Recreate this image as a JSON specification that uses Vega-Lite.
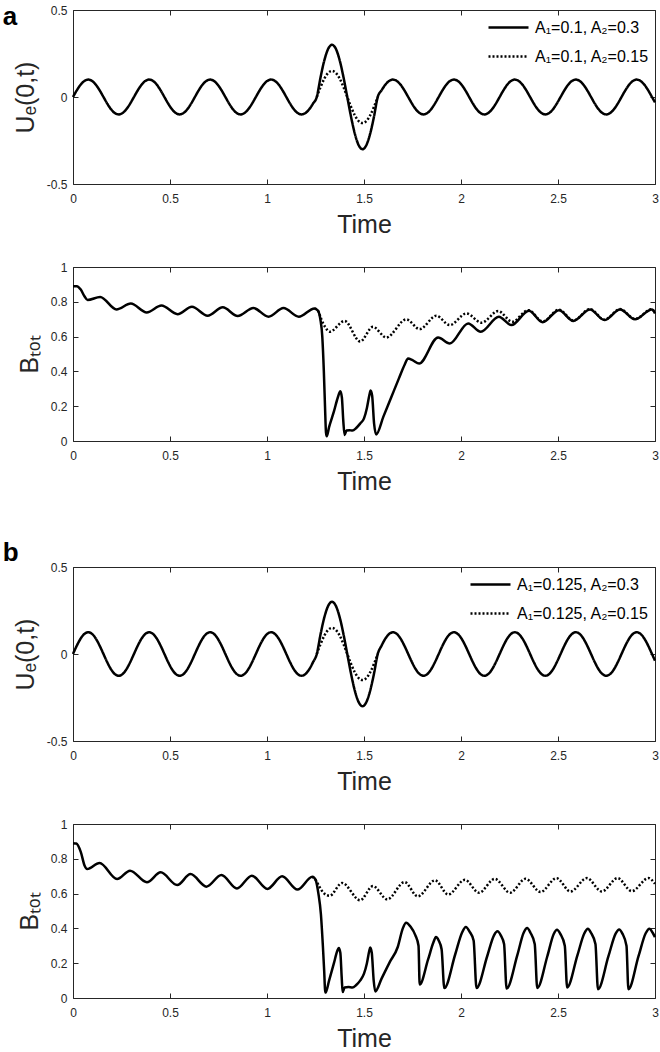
{
"$schema": "https://vega.github.io/schema/vega-lite/v6.json",
"background": "white",
"padding": {"left": 2, "top": 3, "right": 4, "bottom": 2},
"config": {
  "view": {"stroke": "#262626", "strokeWidth": 1},
  "font": "Liberation Sans",
  "axis": {"grid": false, "domain": false, "tickSize": -5, "tickColor": "#262626", "tickWidth": 1, "labelColor": "#262626", "labelFontSize": 12, "labelFont": "Liberation Sans", "labelFlush": false, "labelOverlap": false, "titleFontSize": 25, "titleFont": "Liberation Sans", "titleFontWeight": "normal", "titleColor": "#262626"},
  "axisX": {"labelPadding": 14, "titlePadding": 8},
  "axisY": {"labelPadding": 11, "titlePadding": 8}
},
"datasets": {
"u": [
{"t":0,"a":0,"b":0},{"t":0.0196,"a":0.0383,"b":0.0478},{"t":0.0393,"a":0.0707,"b":0.0884},{"t":0.0589,"a":0.0924,"b":0.1155},{"t":0.0785,"a":0.1,"b":0.125},{"t":0.0982,"a":0.0924,"b":0.1155},{"t":0.1178,"a":0.0707,"b":0.0884},{"t":0.1374,"a":0.0383,"b":0.0478},
{"t":0.1571,"a":0,"b":0},{"t":0.1767,"a":-0.0383,"b":-0.0478},{"t":0.1963,"a":-0.0707,"b":-0.0884},{"t":0.216,"a":-0.0924,"b":-0.1155},{"t":0.2356,"a":-0.1,"b":-0.125},{"t":0.2553,"a":-0.0924,"b":-0.1155},{"t":0.2749,"a":-0.0707,"b":-0.0884},{"t":0.2945,"a":-0.0383,"b":-0.0478},
{"t":0.3142,"a":0,"b":0},{"t":0.3338,"a":0.0383,"b":0.0478},{"t":0.3534,"a":0.0707,"b":0.0884},{"t":0.3731,"a":0.0924,"b":0.1155},{"t":0.3927,"a":0.1,"b":0.125},{"t":0.4123,"a":0.0924,"b":0.1155},{"t":0.432,"a":0.0707,"b":0.0884},{"t":0.4516,"a":0.0383,"b":0.0478},
{"t":0.4712,"a":0,"b":0},{"t":0.4909,"a":-0.0383,"b":-0.0478},{"t":0.5105,"a":-0.0707,"b":-0.0884},{"t":0.5301,"a":-0.0924,"b":-0.1155},{"t":0.5498,"a":-0.1,"b":-0.125},{"t":0.5694,"a":-0.0924,"b":-0.1155},{"t":0.589,"a":-0.0707,"b":-0.0884},{"t":0.6087,"a":-0.0383,"b":-0.0478},
{"t":0.6283,"a":0,"b":0},{"t":0.648,"a":0.0383,"b":0.0478},{"t":0.6676,"a":0.0707,"b":0.0884},{"t":0.6872,"a":0.0924,"b":0.1155},{"t":0.7069,"a":0.1,"b":0.125},{"t":0.7265,"a":0.0924,"b":0.1155},{"t":0.7461,"a":0.0707,"b":0.0884},{"t":0.7658,"a":0.0383,"b":0.0478},
{"t":0.7854,"a":0,"b":0},{"t":0.805,"a":-0.0383,"b":-0.0478},{"t":0.8247,"a":-0.0707,"b":-0.0884},{"t":0.8443,"a":-0.0924,"b":-0.1155},{"t":0.8639,"a":-0.1,"b":-0.125},{"t":0.8836,"a":-0.0924,"b":-0.1155},{"t":0.9032,"a":-0.0707,"b":-0.0884},{"t":0.9228,"a":-0.0383,"b":-0.0478},
{"t":0.9425,"a":0,"b":0},{"t":0.9621,"a":0.0383,"b":0.0478},{"t":0.9817,"a":0.0707,"b":0.0884},{"t":1.0014,"a":0.0924,"b":0.1155},{"t":1.021,"a":0.1,"b":0.125},{"t":1.0407,"a":0.0924,"b":0.1155},{"t":1.0603,"a":0.0707,"b":0.0884},{"t":1.0799,"a":0.0383,"b":0.0478},
{"t":1.0996,"a":0,"b":0},{"t":1.1192,"a":-0.0383,"b":-0.0478},{"t":1.1388,"a":-0.0707,"b":-0.0884},{"t":1.1585,"a":-0.0924,"b":-0.1155},{"t":1.1781,"a":-0.1,"b":-0.125},{"t":1.1977,"a":-0.0924,"b":-0.1155},{"t":1.2174,"a":-0.0707,"b":-0.0884},{"t":1.237,"a":-0.0383,"b":-0.0478},
{"t":1.2566,"a":0,"b":0},{"t":1.2763,"a":0.1148,"b":0.1148},{"t":1.2959,"a":0.2121,"b":0.2121},{"t":1.3155,"a":0.2772,"b":0.2772},{"t":1.3352,"a":0.3,"b":0.3},{"t":1.3548,"a":0.2772,"b":0.2772},{"t":1.3744,"a":0.2121,"b":0.2121},{"t":1.3941,"a":0.1148,"b":0.1148},
{"t":1.4137,"a":0,"b":0},{"t":1.4334,"a":-0.1148,"b":-0.1148},{"t":1.453,"a":-0.2121,"b":-0.2121},{"t":1.4726,"a":-0.2772,"b":-0.2772},{"t":1.4923,"a":-0.3,"b":-0.3},{"t":1.5119,"a":-0.2772,"b":-0.2772},{"t":1.5315,"a":-0.2121,"b":-0.2121},{"t":1.5512,"a":-0.1148,"b":-0.1148},
{"t":1.5708,"a":0,"b":0},{"t":1.5904,"a":0.0383,"b":0.0478},{"t":1.6101,"a":0.0707,"b":0.0884},{"t":1.6297,"a":0.0924,"b":0.1155},{"t":1.6493,"a":0.1,"b":0.125},{"t":1.669,"a":0.0924,"b":0.1155},{"t":1.6886,"a":0.0707,"b":0.0884},{"t":1.7082,"a":0.0383,"b":0.0478},
{"t":1.7279,"a":0,"b":0},{"t":1.7475,"a":-0.0383,"b":-0.0478},{"t":1.7671,"a":-0.0707,"b":-0.0884},{"t":1.7868,"a":-0.0924,"b":-0.1155},{"t":1.8064,"a":-0.1,"b":-0.125},{"t":1.8261,"a":-0.0924,"b":-0.1155},{"t":1.8457,"a":-0.0707,"b":-0.0884},{"t":1.8653,"a":-0.0383,"b":-0.0478},
{"t":1.885,"a":0,"b":0},{"t":1.9046,"a":0.0383,"b":0.0478},{"t":1.9242,"a":0.0707,"b":0.0884},{"t":1.9439,"a":0.0924,"b":0.1155},{"t":1.9635,"a":0.1,"b":0.125},{"t":1.9831,"a":0.0924,"b":0.1155},{"t":2.0028,"a":0.0707,"b":0.0884},{"t":2.0224,"a":0.0383,"b":0.0478},
{"t":2.042,"a":0,"b":0},{"t":2.0617,"a":-0.0383,"b":-0.0478},{"t":2.0813,"a":-0.0707,"b":-0.0884},{"t":2.1009,"a":-0.0924,"b":-0.1155},{"t":2.1206,"a":-0.1,"b":-0.125},{"t":2.1402,"a":-0.0924,"b":-0.1155},{"t":2.1598,"a":-0.0707,"b":-0.0884},{"t":2.1795,"a":-0.0383,"b":-0.0478},
{"t":2.1991,"a":0,"b":0},{"t":2.2188,"a":0.0383,"b":0.0478},{"t":2.2384,"a":0.0707,"b":0.0884},{"t":2.258,"a":0.0924,"b":0.1155},{"t":2.2777,"a":0.1,"b":0.125},{"t":2.2973,"a":0.0924,"b":0.1155},{"t":2.3169,"a":0.0707,"b":0.0884},{"t":2.3366,"a":0.0383,"b":0.0478},
{"t":2.3562,"a":0,"b":0},{"t":2.3758,"a":-0.0383,"b":-0.0478},{"t":2.3955,"a":-0.0707,"b":-0.0884},{"t":2.4151,"a":-0.0924,"b":-0.1155},{"t":2.4347,"a":-0.1,"b":-0.125},{"t":2.4544,"a":-0.0924,"b":-0.1155},{"t":2.474,"a":-0.0707,"b":-0.0884},{"t":2.4936,"a":-0.0383,"b":-0.0478},
{"t":2.5133,"a":0,"b":0},{"t":2.5329,"a":0.0383,"b":0.0478},{"t":2.5525,"a":0.0707,"b":0.0884},{"t":2.5722,"a":0.0924,"b":0.1155},{"t":2.5918,"a":0.1,"b":0.125},{"t":2.6115,"a":0.0924,"b":0.1155},{"t":2.6311,"a":0.0707,"b":0.0884},{"t":2.6507,"a":0.0383,"b":0.0478},
{"t":2.6704,"a":0,"b":0},{"t":2.69,"a":-0.0383,"b":-0.0478},{"t":2.7096,"a":-0.0707,"b":-0.0884},{"t":2.7293,"a":-0.0924,"b":-0.1155},{"t":2.7489,"a":-0.1,"b":-0.125},{"t":2.7685,"a":-0.0924,"b":-0.1155},{"t":2.7882,"a":-0.0707,"b":-0.0884},{"t":2.8078,"a":-0.0383,"b":-0.0478},
{"t":2.8274,"a":0,"b":0},{"t":2.8471,"a":0.0383,"b":0.0478},{"t":2.8667,"a":0.0707,"b":0.0884},{"t":2.8863,"a":0.0924,"b":0.1155},{"t":2.906,"a":0.1,"b":0.125},{"t":2.9256,"a":0.0924,"b":0.1155},{"t":2.9452,"a":0.0707,"b":0.0884},{"t":2.9649,"a":0.0383,"b":0.0478},
{"t":2.9845,"a":0,"b":0},{"t":3,"a":-0.0305,"b":-0.0381}
],
"pd": [
{"t":1.2566,"v":0},{"t":1.2763,"v":0.0574},{"t":1.2959,"v":0.1061},{"t":1.3155,"v":0.1386},{"t":1.3352,"v":0.15},{"t":1.3548,"v":0.1386},{"t":1.3744,"v":0.1061},{"t":1.3941,"v":0.0574},
{"t":1.4137,"v":0},{"t":1.4334,"v":-0.0574},{"t":1.453,"v":-0.1061},{"t":1.4726,"v":-0.1386},{"t":1.4923,"v":-0.15},{"t":1.5119,"v":-0.1386},{"t":1.5315,"v":-0.1061},{"t":1.5512,"v":-0.0574},{"t":1.5708,"v":0}
],
"ba": [
{"t":0,"y":0.89},{"t":0.02,"y":0.89},{"t":0.04,"y":0.87},{"t":0.06,"y":0.83},{"t":0.075,"y":0.81},{"t":0.14,"y":0.828},{"t":0.224,"y":0.756},{"t":0.298,"y":0.79},{"t":0.38,"y":0.739},{"t":0.456,"y":0.779},{"t":0.539,"y":0.729},{"t":0.613,"y":0.772},{"t":0.694,"y":0.72},{"t":0.772,"y":0.768},{"t":0.849,"y":0.718},{"t":0.93,"y":0.764},{"t":1.008,"y":0.714},{"t":1.085,"y":0.764},{"t":1.164,"y":0.714},{"t":1.245,"y":0.762},
{"t":1.262,"y":0.75},{"t":1.275,"y":0.7},{"t":1.285,"y":0.6},{"t":1.293,"y":0.4},{"t":1.299,"y":0.2},{"t":1.304,"y":0.05},{"t":1.308,"y":0.027},{"t":1.32,"y":0.08},{"t":1.345,"y":0.17},{"t":1.365,"y":0.25},{"t":1.378,"y":0.286},{"t":1.386,"y":0.25},{"t":1.393,"y":0.12},{"t":1.4,"y":0.035},{"t":1.41,"y":0.06},{"t":1.425,"y":0.062},{"t":1.44,"y":0.06},{"t":1.46,"y":0.075},{"t":1.48,"y":0.1},{"t":1.5,"y":0.13},{"t":1.515,"y":0.19},{"t":1.527,"y":0.26},{"t":1.534,"y":0.29},{"t":1.542,"y":0.26},{"t":1.552,"y":0.1},{"t":1.563,"y":0.038},
{"t":1.6,"y":0.14},{"t":1.64,"y":0.25},{"t":1.68,"y":0.36},{"t":1.71,"y":0.44},{"t":1.727,"y":0.474},{"t":1.75,"y":0.465},{"t":1.784,"y":0.445},{"t":1.882,"y":0.595},{"t":1.942,"y":0.56},{"t":2.037,"y":0.676},{"t":2.102,"y":0.628},{"t":2.195,"y":0.714},{"t":2.26,"y":0.666},{"t":2.35,"y":0.749},{"t":2.421,"y":0.683},{"t":2.505,"y":0.752},{"t":2.579,"y":0.69},{"t":2.665,"y":0.756},{"t":2.739,"y":0.695},{"t":2.82,"y":0.756},{"t":2.897,"y":0.699},{"t":2.984,"y":0.756},{"t":3,"y":0.733}
],
"bad": [
{"t":1.245,"y":0.762},{"t":1.262,"y":0.75},{"t":1.28,"y":0.7},{"t":1.3,"y":0.655},{"t":1.323,"y":0.628},{"t":1.4,"y":0.69},{"t":1.48,"y":0.572},{"t":1.546,"y":0.656},{"t":1.615,"y":0.595},{"t":1.718,"y":0.699},{"t":1.787,"y":0.643},{"t":1.873,"y":0.72},{"t":1.942,"y":0.666},{"t":2.028,"y":0.733},{"t":2.106,"y":0.68},{"t":2.192,"y":0.747},{"t":2.264,"y":0.685},{"t":2.347,"y":0.752},{"t":2.421,"y":0.687},{"t":2.505,"y":0.755},{"t":2.579,"y":0.692},{"t":2.665,"y":0.758},{"t":2.739,"y":0.697},{"t":2.82,"y":0.758},{"t":2.897,"y":0.701},{"t":2.984,"y":0.758},{"t":3,"y":0.735}
],
"bb": [
{"t":0,"y":0.89},{"t":0.017,"y":0.888},{"t":0.04,"y":0.84},{"t":0.06,"y":0.76},{"t":0.073,"y":0.741},{"t":0.137,"y":0.776},{"t":0.227,"y":0.684},{"t":0.294,"y":0.732},{"t":0.381,"y":0.665},{"t":0.452,"y":0.722},{"t":0.537,"y":0.649},{"t":0.606,"y":0.712},{"t":0.688,"y":0.64},{"t":0.765,"y":0.707},{"t":0.845,"y":0.63},{"t":0.922,"y":0.703},{"t":1.002,"y":0.627},{"t":1.078,"y":0.699},{"t":1.157,"y":0.623},{"t":1.234,"y":0.697},
{"t":1.25,"y":0.68},{"t":1.265,"y":0.6},{"t":1.278,"y":0.48},{"t":1.288,"y":0.3},{"t":1.295,"y":0.15},{"t":1.299,"y":0.05},{"t":1.302,"y":0.031},{"t":1.32,"y":0.1},{"t":1.345,"y":0.2},{"t":1.362,"y":0.27},{"t":1.37,"y":0.287},{"t":1.378,"y":0.26},{"t":1.385,"y":0.12},{"t":1.39,"y":0.034},{"t":1.4,"y":0.06},{"t":1.42,"y":0.063},{"t":1.44,"y":0.06},{"t":1.46,"y":0.075},{"t":1.48,"y":0.1},{"t":1.5,"y":0.14},{"t":1.515,"y":0.2},{"t":1.527,"y":0.27},{"t":1.532,"y":0.29},{"t":1.54,"y":0.26},{"t":1.55,"y":0.1},{"t":1.558,"y":0.038},
{"t":1.59,"y":0.11},{"t":1.632,"y":0.205},{"t":1.674,"y":0.293},{"t":1.7,"y":0.4},{"t":1.717,"y":0.433},{"t":1.74,"y":0.41},{"t":1.765,"y":0.36},{"t":1.781,"y":0.3},{"t":1.787,"y":0.077},
{"t":1.83,"y":0.22},{"t":1.858,"y":0.32},{"t":1.871,"y":0.35},{"t":1.885,"y":0.33},{"t":1.9,"y":0.28},{"t":1.914,"y":0.057},
{"t":1.97,"y":0.25},{"t":2.005,"y":0.375},{"t":2.025,"y":0.408},{"t":2.045,"y":0.38},{"t":2.065,"y":0.33},{"t":2.08,"y":0.057},
{"t":2.135,"y":0.24},{"t":2.17,"y":0.36},{"t":2.188,"y":0.383},{"t":2.205,"y":0.36},{"t":2.222,"y":0.31},{"t":2.235,"y":0.054},
{"t":2.29,"y":0.245},{"t":2.323,"y":0.375},{"t":2.341,"y":0.402},{"t":2.358,"y":0.375},{"t":2.38,"y":0.31},{"t":2.393,"y":0.057},
{"t":2.445,"y":0.24},{"t":2.478,"y":0.368},{"t":2.495,"y":0.392},{"t":2.512,"y":0.368},{"t":2.535,"y":0.3},{"t":2.547,"y":0.061},
{"t":2.6,"y":0.245},{"t":2.636,"y":0.372},{"t":2.654,"y":0.398},{"t":2.67,"y":0.375},{"t":2.693,"y":0.31},{"t":2.706,"y":0.05},
{"t":2.76,"y":0.24},{"t":2.797,"y":0.37},{"t":2.815,"y":0.394},{"t":2.832,"y":0.37},{"t":2.853,"y":0.3},{"t":2.863,"y":0.05},
{"t":2.915,"y":0.24},{"t":2.952,"y":0.372},{"t":2.971,"y":0.398},{"t":2.988,"y":0.375},{"t":3,"y":0.35}
],
"bbd": [
{"t":1.234,"y":0.697},{"t":1.25,"y":0.68},{"t":1.27,"y":0.64},{"t":1.295,"y":0.6},{"t":1.323,"y":0.588},{"t":1.387,"y":0.661},{"t":1.48,"y":0.562},{"t":1.546,"y":0.643},{"t":1.62,"y":0.567},{"t":1.709,"y":0.666},{"t":1.777,"y":0.584},{"t":1.866,"y":0.676},{"t":1.934,"y":0.595},{"t":2.02,"y":0.679},{"t":2.093,"y":0.605},{"t":2.174,"y":0.685},{"t":2.253,"y":0.605},{"t":2.333,"y":0.685},{"t":2.41,"y":0.609},{"t":2.492,"y":0.689},{"t":2.564,"y":0.612},{"t":2.649,"y":0.689},{"t":2.726,"y":0.612},{"t":2.807,"y":0.689},{"t":2.88,"y":0.614},{"t":2.966,"y":0.689},{"t":3,"y":0.656}
]
},
"spacing": 44,
"resolve": {"scale": {"strokeDash": "independent"}, "legend": {"strokeDash": "independent"}},
"vconcat": [
{
  "title": {"text": "a", "anchor": "start", "frame": "bounds", "fontSize": 26, "fontWeight": "bold", "color": "black", "baseline": "alphabetic", "offset": -47, "dx": -10},
  "spacing": 22,
  "resolve": {"scale": {"strokeDash": "independent"}, "legend": {"strokeDash": "independent"}},
  "vconcat": [
    {
      "width": 582, "height": 174,
      "layer": [
        {"data": {"name": "u"}, "mark": {"type": "line", "color": "black", "strokeWidth": 2.5, "interpolate": "monotone"},
         "encoding": {
           "x": {"field": "t", "type": "quantitative", "scale": {"domain": [0, 3], "nice": false}, "axis": {"title": "Time", "values": [0, 0.5, 1, 1.5, 2, 2.5, 3], "format": ".2~f"}},
           "y": {"field": "a", "type": "quantitative", "scale": {"domain": [-0.5, 0.5], "nice": false}, "axis": {"title": "Uₑ(0,t)", "values": [-0.5, 0, 0.5], "format": ".2~f", "labelExpr": "replace(datum.label, '−', '-')"}},
           "strokeDash": {"datum": "A₁=0.1, A₂=0.3", "type": "nominal", "scale": {"domain": ["A₁=0.1, A₂=0.3", "A₁=0.1, A₂=0.15"], "range": [[1, 0], [2, 2]]},
             "legend": {"orient": "top-right", "title": null, "symbolType": "M-2,0H2", "symbolSize": 400, "symbolStrokeWidth": 2.5, "symbolStrokeColor": "black", "labelFontSize": 16, "labelColor": "black", "rowPadding": 9, "labelOffset": 15, "offset": 6, "padding": 0}}
         }},
        {"data": {"name": "pd"}, "mark": {"type": "line", "color": "black", "strokeWidth": 2.5, "interpolate": "monotone"},
         "encoding": {
           "x": {"field": "t", "type": "quantitative", "axis": null},
           "y": {"field": "v", "type": "quantitative", "axis": null},
           "strokeDash": {"datum": "A₁=0.1, A₂=0.15", "type": "nominal"}
         }},
        {"data": {"name": "u"}, "mark": {"type": "line", "strokeOpacity": 0},
         "encoding": {
           "x": {"field": "t", "type": "quantitative", "axis": {"orient": "top", "labels": false, "title": null, "values": [0, 0.5, 1, 1.5, 2, 2.5, 3]}},
           "y": {"field": "a", "type": "quantitative", "axis": {"orient": "right", "labels": false, "title": null, "values": [-0.5, 0, 0.5]}}
         }}
      ],
      "resolve": {"axis": {"x": "independent", "y": "independent"}}
    },
    {
      "width": 582, "height": 174,
      "layer": [
        {"data": {"name": "ba"}, "mark": {"type": "line", "color": "black", "strokeWidth": 2.5, "interpolate": "monotone"},
         "encoding": {
           "x": {"field": "t", "type": "quantitative", "scale": {"domain": [0, 3], "nice": false}, "axis": {"title": "Time", "values": [0, 0.5, 1, 1.5, 2, 2.5, 3], "format": ".2~f"}},
           "y": {"field": "y", "type": "quantitative", "scale": {"domain": [0, 1], "nice": false}, "axis": {"title": "Bₜₒₜ", "values": [0, 0.2, 0.4, 0.6, 0.8, 1], "format": ".2~f"}}
         }},
        {"data": {"name": "bad"}, "mark": {"type": "line", "color": "black", "strokeWidth": 2.5, "strokeDash": [2, 2], "interpolate": "monotone"},
         "encoding": {
           "x": {"field": "t", "type": "quantitative", "axis": null},
           "y": {"field": "y", "type": "quantitative", "axis": null}
         }},
        {"data": {"name": "ba"}, "mark": {"type": "line", "strokeOpacity": 0},
         "encoding": {
           "x": {"field": "t", "type": "quantitative", "axis": {"orient": "top", "labels": false, "title": null, "values": [0, 0.5, 1, 1.5, 2, 2.5, 3]}},
           "y": {"field": "y", "type": "quantitative", "axis": {"orient": "right", "labels": false, "title": null, "values": [0, 0.2, 0.4, 0.6, 0.8, 1]}}
         }}
      ],
      "resolve": {"axis": {"x": "independent", "y": "independent"}}
    }
  ]
},
{
  "title": {"text": "b", "anchor": "start", "frame": "bounds", "fontSize": 26, "fontWeight": "bold", "color": "black", "baseline": "alphabetic", "offset": -26, "dx": -10},
  "spacing": 22,
  "resolve": {"scale": {"strokeDash": "independent"}, "legend": {"strokeDash": "independent"}},
  "vconcat": [
    {
      "width": 582, "height": 174,
      "layer": [
        {"data": {"name": "u"}, "mark": {"type": "line", "color": "black", "strokeWidth": 2.5, "interpolate": "monotone"},
         "encoding": {
           "x": {"field": "t", "type": "quantitative", "scale": {"domain": [0, 3], "nice": false}, "axis": {"title": "Time", "values": [0, 0.5, 1, 1.5, 2, 2.5, 3], "format": ".2~f"}},
           "y": {"field": "b", "type": "quantitative", "scale": {"domain": [-0.5, 0.5], "nice": false}, "axis": {"title": "Uₑ(0,t)", "values": [-0.5, 0, 0.5], "format": ".2~f", "labelExpr": "replace(datum.label, '−', '-')"}},
           "strokeDash": {"datum": "A₁=0.125, A₂=0.3", "type": "nominal", "scale": {"domain": ["A₁=0.125, A₂=0.3", "A₁=0.125, A₂=0.15"], "range": [[1, 0], [2, 2]]},
             "legend": {"orient": "top-right", "title": null, "symbolType": "M-2,0H2", "symbolSize": 400, "symbolStrokeWidth": 2.5, "symbolStrokeColor": "black", "labelFontSize": 16, "labelColor": "black", "rowPadding": 9, "labelOffset": 15, "offset": 6, "padding": 0}}
         }},
        {"data": {"name": "pd"}, "mark": {"type": "line", "color": "black", "strokeWidth": 2.5, "interpolate": "monotone"},
         "encoding": {
           "x": {"field": "t", "type": "quantitative", "axis": null},
           "y": {"field": "v", "type": "quantitative", "axis": null},
           "strokeDash": {"datum": "A₁=0.125, A₂=0.15", "type": "nominal"}
         }},
        {"data": {"name": "u"}, "mark": {"type": "line", "strokeOpacity": 0},
         "encoding": {
           "x": {"field": "t", "type": "quantitative", "axis": {"orient": "top", "labels": false, "title": null, "values": [0, 0.5, 1, 1.5, 2, 2.5, 3]}},
           "y": {"field": "b", "type": "quantitative", "axis": {"orient": "right", "labels": false, "title": null, "values": [-0.5, 0, 0.5]}}
         }}
      ],
      "resolve": {"axis": {"x": "independent", "y": "independent"}}
    },
    {
      "width": 582, "height": 174,
      "layer": [
        {"data": {"name": "bb"}, "mark": {"type": "line", "color": "black", "strokeWidth": 2.5, "interpolate": "monotone"},
         "encoding": {
           "x": {"field": "t", "type": "quantitative", "scale": {"domain": [0, 3], "nice": false}, "axis": {"title": "Time", "values": [0, 0.5, 1, 1.5, 2, 2.5, 3], "format": ".2~f"}},
           "y": {"field": "y", "type": "quantitative", "scale": {"domain": [0, 1], "nice": false}, "axis": {"title": "Bₜₒₜ", "values": [0, 0.2, 0.4, 0.6, 0.8, 1], "format": ".2~f"}}
         }},
        {"data": {"name": "bbd"}, "mark": {"type": "line", "color": "black", "strokeWidth": 2.5, "strokeDash": [2, 2], "interpolate": "monotone"},
         "encoding": {
           "x": {"field": "t", "type": "quantitative", "axis": null},
           "y": {"field": "y", "type": "quantitative", "axis": null}
         }},
        {"data": {"name": "bb"}, "mark": {"type": "line", "strokeOpacity": 0},
         "encoding": {
           "x": {"field": "t", "type": "quantitative", "axis": {"orient": "top", "labels": false, "title": null, "values": [0, 0.5, 1, 1.5, 2, 2.5, 3]}},
           "y": {"field": "y", "type": "quantitative", "axis": {"orient": "right", "labels": false, "title": null, "values": [0, 0.2, 0.4, 0.6, 0.8, 1]}}
         }}
      ],
      "resolve": {"axis": {"x": "independent", "y": "independent"}}
    }
  ]
}
]
}
